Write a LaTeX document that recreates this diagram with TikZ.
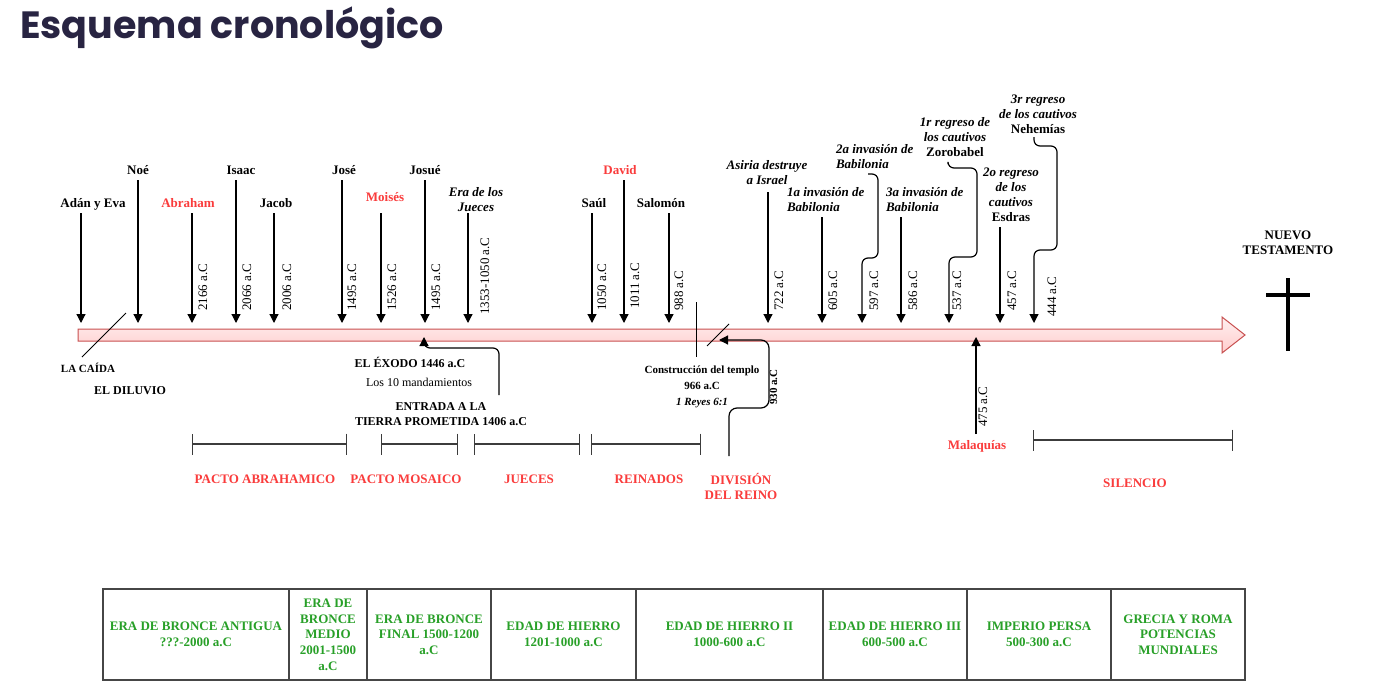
\documentclass[tikz,border=0pt]{standalone}
\usepackage{fontspec}
\setmainfont{Liberation Serif}
\newfontfamily\titlefont{Poppins}
\usetikzlibrary{arrows.meta}
\definecolor{titlec}{RGB}{40,36,66}
\definecolor{redt}{RGB}{250,60,60}
\definecolor{greent}{RGB}{40,160,40}
\definecolor{barline}{RGB}{200,80,80}
\definecolor{brkc}{RGB}{60,60,60}
\definecolor{tblc}{RGB}{70,70,70}
\begin{document}
\begin{tikzpicture}[x=1pt,y=-1pt,
  lbl/.style={anchor=south,inner sep=0pt,outer sep=0pt,text depth=0pt,align=center,font=\fontsize{13}{15}\selectfont\bfseries},
  lblL/.style={lbl,anchor=south west,align=left},
  ilbl/.style={lbl,font=\fontsize{13}{15}\selectfont\bfseries\itshape},
  ilblL/.style={ilbl,anchor=south west,align=left},
  redl/.style={lbl,text=redt},
  small/.style={lbl,font=\fontsize{12}{15}\selectfont\bfseries},
  date/.style={rotate=90,anchor=base west,inner sep=0pt,font=\fontsize{13}{15}\selectfont},
  arr/.style={-{Triangle[length=9pt,width=9pt]},line width=1.2pt,black},
  dn/.style={arr,shorten <=6pt},
  conn/.style={arr,rounded corners=6pt},
  brk/.style={{Bar[width=21pt]}-{Bar[width=21pt]},line width=1.2pt,draw=brkc},
  thin/.style={line width=1pt,black},
  cell/.style={anchor=center,inner sep=0pt,align=center,text=greent,font=\fontsize{13}{15.7}\selectfont\bfseries}
]
\fill[white] (0,0) rectangle (1383,698);
\useasboundingbox (0,0) rectangle (1383,698);

% title
\node[anchor=base west,inner sep=0pt,text=titlec,font=\titlefont\fontsize{38}{40}\selectfont\bfseries] (title) at (20,39) {Esquema cronológico};

% main bar
\path[draw=barline,line width=1pt,top color=red!6,bottom color=red!20]
  (78,329) -- (1222,329) -- (1222,317) -- (1245,335) -- (1222,353) -- (1222,341) -- (78,341) -- cycle;

% cross and NT
\node[small,font=\fontsize{13}{15}\selectfont\bfseries] (nt) at (1288,254) {NUEVO\\TESTAMENTO};
\draw[line width=4pt] (1288,278) -- (1288,351);
\draw[line width=4pt] (1266,295) -- (1310,295);

% bar targets
\foreach \n/\x in {t1/81,t2/138,t3/192,t4/236,t5/274,t6/342,t7/381,t8/425,t9/468,t10/592,t11/624,t12/669,t13/768,t14/822,t15/862,t16/901,t17/949,t18/1000,t19/1034}
  \coordinate (\n) at (\x,323);

% top labels
\node[lbl] (adan) at (93,207) {Adán y Eva};
\node[lbl] (noe) at (138,174) {Noé};
\node[redl] (abraham) at (188,207) {Abraham};
\node[lbl] (isaac) at (241,174) {Isaac};
\node[lbl] (jacob) at (276,207) {Jacob};
\node[lbl] (jose) at (344,174) {José};
\node[redl] (moises) at (385,201) {Moisés};
\node[lbl] (josue) at (425,174) {Josué};
\node[ilbl] (jueces) at (476,211) {Era de los\\Jueces};
\node[lbl] (saul) at (594,207) {Saúl};
\node[redl] (david) at (620,174) {David};
\node[lbl] (salomon) at (661,207) {Salomón};
\node[ilbl] (asiria) at (767,184) {Asiria destruye\\a Israel};
\node[ilblL] (inv1) at (787,211) {1a invasión de\\Babilonia};
\node[ilblL] (inv2) at (836,168) {2a invasión de\\Babilonia};
\node[ilblL] (inv3) at (886,211) {3a invasión de\\Babilonia};
\node[lbl] (zoro) at (955,156) {{\itshape 1r regreso de}\\{\itshape los cautivos}\\Zorobabel};
\node[lbl] (esdras) at (1011,221) {{\itshape 2o regreso}\\{\itshape de los}\\{\itshape cautivos}\\Esdras};
\node[lbl] (nehem) at (1038,133) {{\itshape 3r regreso}\\{\itshape de los cautivos}\\Nehemías};

% down arrows
\draw[dn] (adan.south -| t1) -- (t1);
\draw[dn] (noe.south -| t2) -- (t2);
\draw[dn] (abraham.south -| t3) -- (t3);
\draw[dn] (isaac.south -| t4) -- (t4);
\draw[dn] (jacob.south -| t5) -- (t5);
\draw[dn] (jose.south -| t6) -- (t6);
\draw[dn,shorten <=12pt] (moises.south -| t7) -- (t7);
\draw[dn] (josue.south -| t8) -- (t8);
\draw[dn,shorten <=2pt] (jueces.south -| t9) -- (t9);
\draw[dn] (saul.south -| t10) -- (t10);
\draw[dn] (david.south -| t11) -- (t11);
\draw[dn] (salomon.south -| t12) -- (t12);
\draw[dn,shorten <=8pt] (asiria.south -| t13) -- (t13);
\draw[dn] (inv1.south -| t14) -- (t14);
\draw[dn] (inv3.south -| t16) -- (t16);
\draw[dn] (esdras.south -| t18) -- (t18);
\coordinate (c15) at (868,174);
\coordinate (c17) at (948,164);
\coordinate (c19) at (1034,137);
\draw[conn] (c15) -- (878,174) -- (878,258) -- (862,258) -- (t15);
\draw[conn] (c17) -- (948,168) -- (977,168) -- (977,257) -- (949,257) -- (t17);
\draw[conn] (c19) -- (1034,146) -- (1057,146) -- (1057,250) -- (1034,250) -- (t19);

% dates
\node[date] (d3) at (207,311) {2166 a.C};
\node[date] (d4) at (251,311) {2066 a.C};
\node[date] (d5) at (291,311) {2006 a.C};
\node[date] (d6) at (356,311) {1495 a.C};
\node[date] (d7) at (396,311) {1526 a.C};
\node[date] (d8) at (440,311) {1495 a.C};
\node[date] (d9) at (489,315) {1353-1050 a.C};
\node[date] (d10) at (606,311) {1050 a.C};
\node[date] (d11) at (639,309) {1011 a.C};
\node[date] (d12) at (683,311) {988 a.C};
\node[date] (d13) at (783,311) {722 a.C};
\node[date] (d14) at (837,311) {605 a.C};
\node[date] (d15) at (878,311) {597 a.C};
\node[date] (d16) at (917,311) {586 a.C};
\node[date] (d17) at (961,311) {537 a.C};
\node[date] (d18) at (1016,311) {457 a.C};
\node[date] (d19) at (1056,317) {444 a.C};

% below the bar
\node[lbl,font=\fontsize{11}{14}\selectfont\bfseries] (caida) at (88,372) {LA CAÍDA};
\draw[thin] (82,357) -- (126,313);
\node[small] (diluvio) at (130,394) {EL DILUVIO};
\node[small] (exodo) at (410,367) {EL ÉXODO 1446 a.C};
\node[lbl,font=\fontsize{12}{15}\selectfont] (mand) at (419,386) {Los 10 mandamientos};
\node[small] (entrada) at (441,425) {ENTRADA A LA\\TIERRA PROMETIDA 1406 a.C};
\coordinate (up1) at (424,337);
\coordinate (e1) at (499,395);
\draw[conn] (e1) -- (499,348) -- (424,348) -- (up1);

\draw[thin] (696,302) -- (696,357);
\draw[thin] (707,346) -- (729,324);
\node[lbl,font=\fontsize{11}{16}\selectfont\bfseries] (templo) at (702,405) {Construcción del templo\\966 a.C\\{\itshape 1 Reyes 6:1}};
\coordinate (div) at (729,456);
\coordinate (up2) at (719,340);
\draw[conn,rounded corners=8pt] (div) -- (729,408) -- (769,408) -- (769,340) -- (up2);
\node[date,font=\fontsize{11}{14}\selectfont\bfseries] (d930) at (777,405) {930 a.C};

\coordinate (mq) at (976,434);
\coordinate (up3) at (976,337);
\draw[arr] (mq) -- (up3);
\node[date] (d475) at (987,427) {475 a.C};
\node[redl] (malaq) at (977,449) {Malaquías};

% periods
\draw[brk] (192,444) -- (347,444);
\draw[brk] (381,444) -- (458,444);
\draw[brk] (474,444) -- (580,444);
\draw[brk] (591,444) -- (701,444);
\draw[brk] (1033,440) -- (1233,440);
\node[redl] (pa) at (265,483) {PACTO ABRAHAMICO};
\node[redl] (pm) at (406,483) {PACTO MOSAICO};
\node[redl] (ju) at (529,483) {JUECES};
\node[redl] (re) at (649,483) {REINADOS};
\node[redl] (dr) at (741,499) {DIVISIÓN\\DEL REINO};
\node[redl] (si) at (1135,487) {SILENCIO};

% table
\draw[line width=1.3pt,draw=tblc] (103,589) rectangle (1245,680);
\foreach \x in {289,367,491,636,823,967,1111}
  \draw[line width=1.3pt,draw=tblc] (\x,589) -- (\x,680);
\node[cell] (k1) at (196,634.5) {ERA DE BRONCE ANTIGUA\\???-2000 a.C};
\node[cell] (k2) at (328,634.5) {ERA DE\\BRONCE\\MEDIO\\2001-1500\\a.C};
\node[cell] (k3) at (429,634.5) {ERA DE BRONCE\\FINAL 1500-1200\\a.C};
\node[cell] (k4) at (563.5,634.5) {EDAD DE HIERRO\\1201-1000 a.C};
\node[cell] (k5) at (729.5,634.5) {EDAD DE HIERRO II\\1000-600 a.C};
\node[cell] (k6) at (895,634.5) {EDAD DE HIERRO III\\600-500 a.C};
\node[cell] (k7) at (1039,634.5) {IMPERIO PERSA\\500-300 a.C};
\node[cell] (k8) at (1178,634.5) {GRECIA Y ROMA\\POTENCIAS\\MUNDIALES};
\end{tikzpicture}
\end{document}
